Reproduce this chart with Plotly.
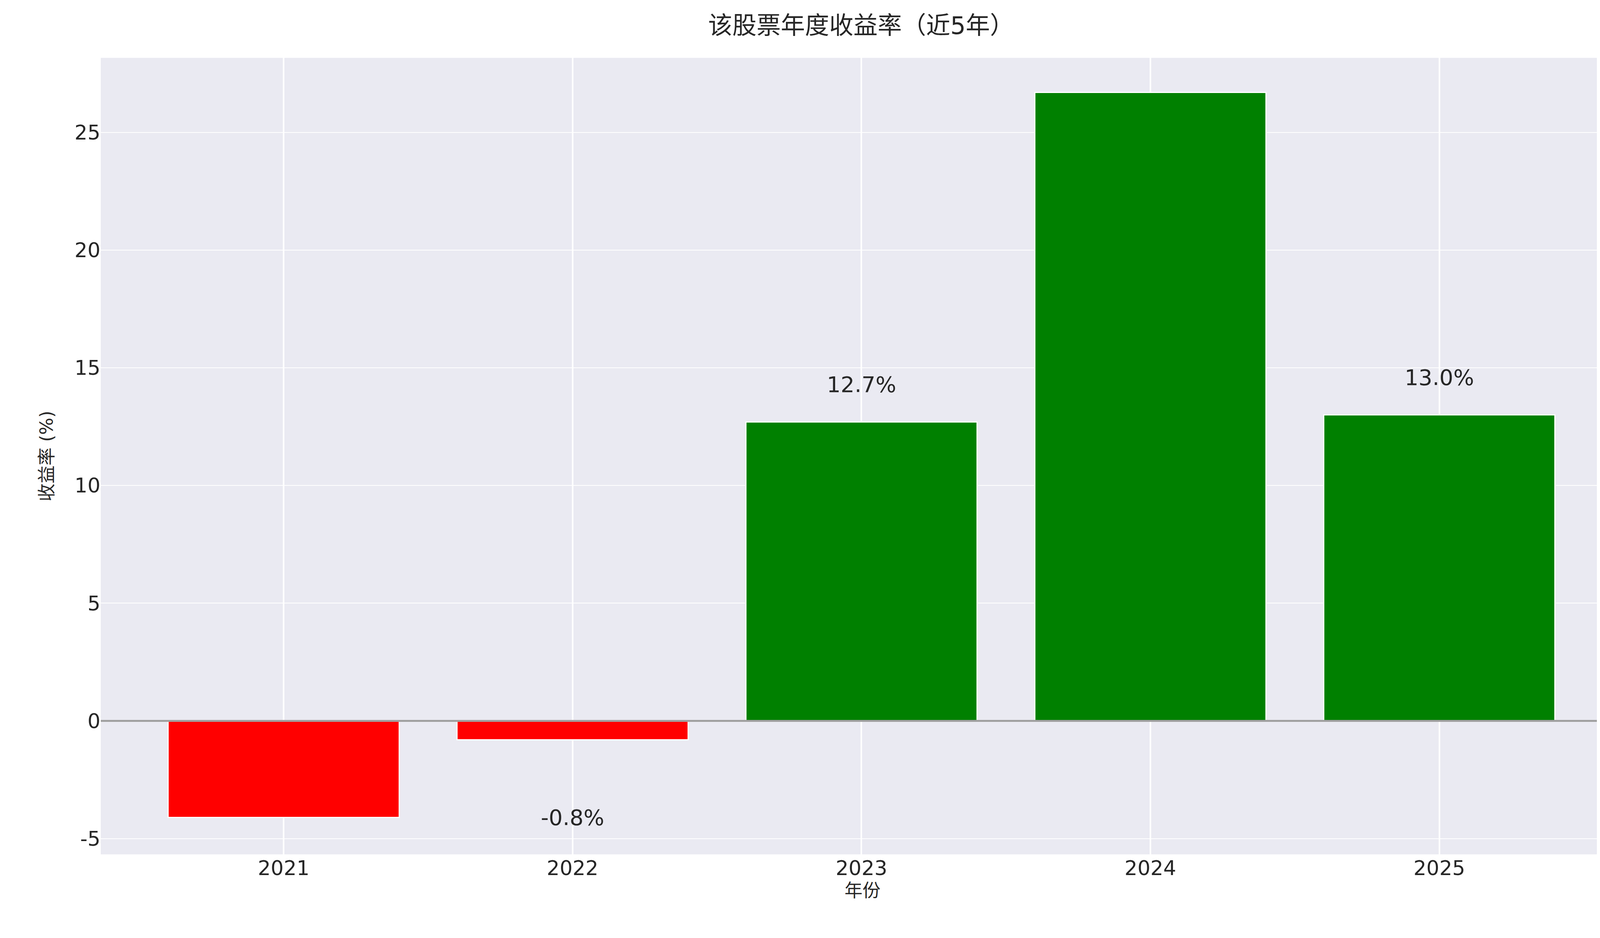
import plotly.graph_objects as go

years = ["2021", "2022", "2023", "2024", "2025"]
returns = [-4.1, -0.8, 12.7, 26.7, 13.0]
title_text = "该股票年度收益率（近5年）"
x_title = "年份"
y_title = "收益率 (%)"
y_ticks = [-5, 0, 5, 10, 15, 20, 25]

xs = [int(y) for y in years]
colors = ["green" if v >= 0 else "red" for v in returns]
font = "DejaVu Sans, Noto Sans CJK SC"

fig = go.Figure(go.Bar(x=xs, y=returns, marker_color=colors, marker_line_color="white",
                       marker_line_width=3, width=0.8))
fig.add_trace(go.Scatter(
    x=xs, y=[v + 1.5 if v >= 0 else v - 3.4 for v in returns],
    text=[f"{v:.1f}%" for v in returns], mode="text", cliponaxis=False,
    textfont=dict(size=56, color="#262626", family=font), hoverinfo="skip"))
fig.add_hline(y=0, line_color="#a0a0a0", line_width=5)
fig.update_layout(
    width=4200, height=2400, paper_bgcolor="white", plot_bgcolor="#EAEAF2",
    margin=dict(l=250, r=50, t=140, b=222),
    title=dict(text=title_text, x=0.523, xanchor="center", y=0.985, yanchor="top",
               font=dict(size=62, color="#262626", family=font)),
    font=dict(family=font, color="#262626"),
    showlegend=False,
)
fig.update_xaxes(range=[2021 - 0.633, 2025 + 0.64], tickvals=xs, ticktext=years,
                 tickfont=dict(size=52), gridcolor="white", gridwidth=4, zeroline=False,
                 title=dict(text=x_title, font=dict(size=46), standoff=10), ticks="", ticklen=0)
fig.update_yaxes(range=[-5.67, 28.17], tickvals=y_ticks, ticktext=[str(t) for t in y_ticks],
                 tickfont=dict(size=52), gridcolor="white", gridwidth=2, zeroline=False,
                 title=dict(text=y_title, font=dict(size=46), standoff=40))
fig.write_html("out.html")
